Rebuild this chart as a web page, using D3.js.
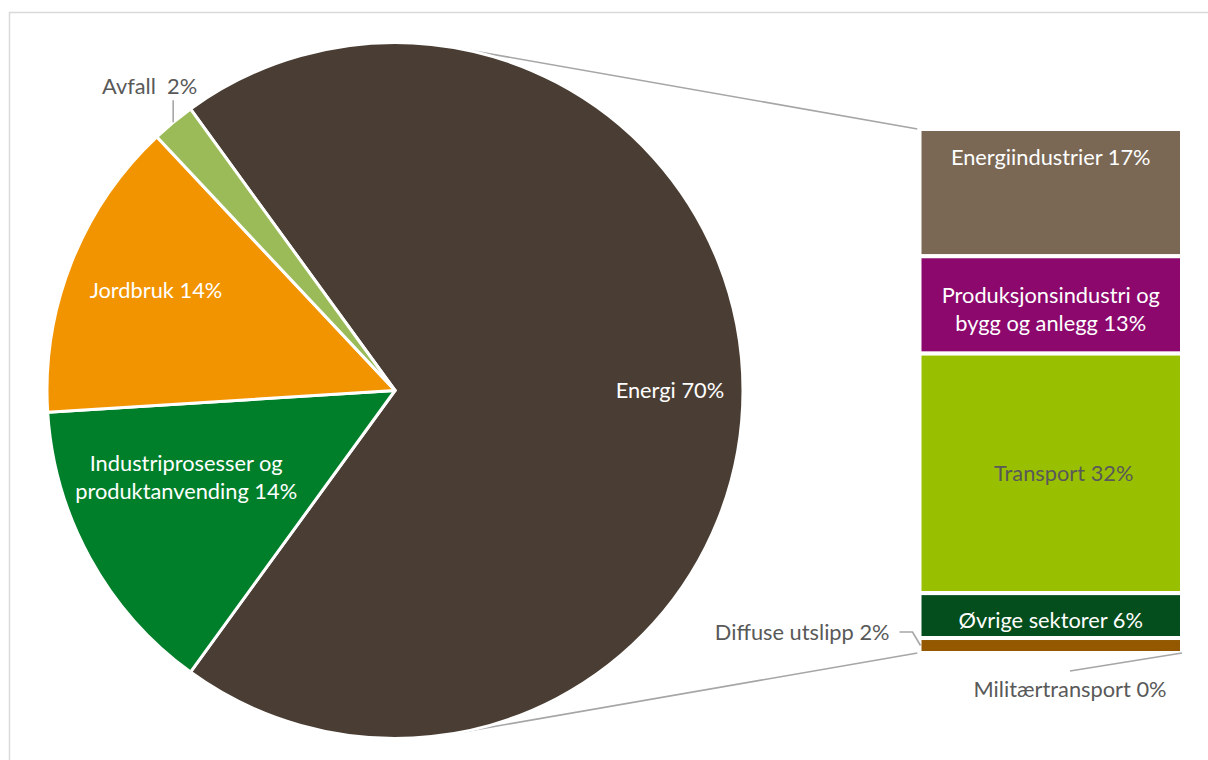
<!DOCTYPE html>
<html>
<head>
<meta charset="utf-8">
<script src="https://cdn.jsdelivr.net/npm/d3@7"></script>
<style>
  html, body { margin: 0; padding: 0; background: #ffffff; }
  svg { display: block; font-family: Lato, "Open Sans", sans-serif; }
</style>
</head>
<body>
<svg id="chart" width="1208" height="760"></svg>
<script>
// Greenhouse gas emissions by sector (share of total, %)
const pieCategories = ["Energi", "Industriprosesser og produktanvending", "Jordbruk", "Avfall"];
const pieValues = [70, 14, 14, 2];
const pieColors = ["#4a3e34", "#007f2b", "#f29400", "#9bbb59"];

// Breakdown of the Energi slice, stacked top to bottom in the bar
const barCategories = ["Energiindustrier", "Produksjonsindustri og bygg og anlegg", "Transport",
                       "Øvrige sektorer", "Diffuse utslipp", "Militærtransport"];
const barValues = [17, 13, 32, 6, 2, 0];
const barColors = ["#7a6855", "#8c086d", "#99c000", "#044d1c", "#935800", "#6b4a1f"];

const pct = v => `${d3.format(".0f")(v)}%`;

const svg = d3.select("#chart");
const W = 1208, H = 760;
const FONT = 21.8;
const GREY_TEXT = "#595959";
const LINE = "#a6a6a6";

// chart area frame
svg.append("rect")
  .attr("x", 9.5).attr("y", 12.5)
  .attr("width", W + 40).attr("height", H + 40)
  .attr("fill", "#ffffff")
  .attr("stroke", "#d9d9d9").attr("stroke-width", 1.5);

// ---- geometry ----
const cx = 395, cy = 390.5, R = 348;
const split = pieValues[0] / d3.sum(pieValues) * 2 * Math.PI;   // angle of the Energi slice
const start = Math.PI / 2 - split / 2;                          // centre Energi on the right side

const pie = d3.pie().sort(null).value(d => d).startAngle(start).endAngle(start + 2 * Math.PI);
const arcs = pie(pieValues);
const arc = d3.arc().innerRadius(0).outerRadius(R);

const barX0 = 919.5, barX1 = 1182;
const barTotal = d3.sum(barValues);
const y = d3.scaleLinear().domain([0, barTotal]).range([129, 653]);
const cum = [0, ...d3.cumsum(barValues)];
const segs = barValues.map((v, i) => ({ v, i, y0: y(cum[i]), y1: y(cum[i + 1]) }));

// ---- connector lines: tangents from the bar corners to the pie ----
function tangent(px, py, upper) {
  const dx = px - cx, dy = py - cy;
  const d = Math.hypot(dx, dy);
  const phi = Math.atan2(dy, dx);
  const a = Math.acos(R / d);
  const t = upper ? phi - a : phi + a;
  return [cx + R * Math.cos(t), cy + R * Math.sin(t)];
}
const topT = tangent(barX0, y(0), true);
const botT = tangent(barX0, y(barTotal), false);
svg.append("g").attr("fill", "none").attr("stroke", LINE).attr("stroke-width", 1.6)
  .selectAll("line")
  .data([[[barX0 - 2, y(0)], topT], [[barX0 - 2, y(barTotal)], botT]])
  .join("line")
  .attr("x1", d => d[0][0]).attr("y1", d => d[0][1])
  .attr("x2", d => d[1][0]).attr("y2", d => d[1][1]);

// ---- pie ----
const pieG = svg.append("g").attr("transform", `translate(${cx},${cy})`);
pieG.selectAll("path")
  .data(arcs)
  .join("path")
  .attr("d", arc)
  .attr("fill", (d, i) => pieColors[i])
  .attr("stroke", "#ffffff")
  .attr("stroke-width", 3)
  .attr("stroke-linejoin", "round");

// text helpers
function wrapLines(text, maxWidth) {
  const probe = svg.append("text").attr("font-size", FONT).attr("visibility", "hidden");
  const words = text.split(" ");
  const lines = [];
  let cur = "";
  for (const w of words) {
    const test = cur ? cur + " " + w : w;
    probe.text(test);
    if (cur && probe.node().getComputedTextLength() > maxWidth) {
      lines.push(cur);
      cur = w;
    } else cur = test;
  }
  if (cur) lines.push(cur);
  probe.remove();
  return lines;
}
function multiText(g, x, yc, lines, fill, anchor = "middle", lh = 28) {
  const t = g.append("text")
    .attr("x", x).attr("font-size", FONT)
    .attr("fill", fill).attr("text-anchor", anchor);
  const y0 = yc - (lines.length - 1) * lh / 2;
  lines.forEach((ln, k) => {
    t.append("tspan").attr("x", x).attr("y", y0 + k * lh).attr("dy", "0.35em").text(ln);
  });
  return t;
}

// pie labels: radius as fraction of R, angular nudge in degrees
const pieLabelPlacement = [
  { r: 0.79, nudge: 0 },
  { r: 0.65, nudge: 6.2 },
  { r: 0.745, nudge: 1.2 },
  null
];
const labelG = svg.append("g");
arcs.forEach((a, i) => {
  const text = `${pieCategories[i]} ${pct(pieValues[i])}`;
  const place = pieLabelPlacement[i];
  const mid = (a.startAngle + a.endAngle) / 2;
  if (place) {
    const ang = mid + place.nudge * Math.PI / 180;
    const lx = cx + Math.sin(ang) * R * place.r;
    const ly = cy - Math.cos(ang) * R * place.r;
    multiText(labelG, lx, ly, wrapLines(text, 250), "#ffffff");
  } else {
    // small slice: label outside with a vertical leader
    const px = cx + Math.sin(mid) * R;
    const py = cy - Math.cos(mid) * R;
    labelG.append("line")
      .attr("x1", px).attr("y1", py).attr("x2", px).attr("y2", py - 22)
      .attr("stroke", LINE).attr("stroke-width", 1.6);
    labelG.append("text")
      .attr("x", px + 24).attr("y", py - 36).attr("dy", "0.35em")
      .attr("text-anchor", "end").attr("font-size", FONT).attr("fill", GREY_TEXT)
      .text(`${pieCategories[i]}\u00a0 ${pct(pieValues[i])}`);
  }
});

// ---- bar ----
const barG = svg.append("g");
barG.selectAll("rect")
  .data(segs)
  .join("rect")
  .attr("x", barX0).attr("width", barX1 - barX0)
  .attr("y", d => d.y0).attr("height", d => d.y1 - d.y0)
  .attr("fill", d => barColors[d.i])
  .attr("stroke", "#ffffff").attr("stroke-width", 4);

const barMid = (barX0 + barX1) / 2;
// inside label offsets (dx, dy) and text colour per segment
const barLabelPlacement = [
  { dx: 0, dy: -35, fill: "#ffffff" },
  { dx: 0, dy: 4, fill: "#ffffff" },
  { dx: 13, dy: 0, fill: GREY_TEXT },
  { dx: 0, dy: 5, fill: "#ffffff" }
];
segs.forEach((s, i) => {
  const text = `${barCategories[i]} ${pct(barValues[i])}`;
  const mid = (s.y0 + s.y1) / 2;
  if (i < barLabelPlacement.length) {
    const p = barLabelPlacement[i];
    multiText(barG, barMid + p.dx, mid + p.dy, wrapLines(text, 250), p.fill);
  } else if (i === 4) {
    // Diffuse utslipp: label to the left with a bent leader
    const ax = barX0 + 1, ay = mid;
    const ly = ay - 13.5;
    barG.append("polyline")
      .attr("points", [[ax, ay], [ax - 8, ly], [ax - 21, ly]].map(p => p.join(",")).join(" "))
      .attr("fill", "none").attr("stroke", LINE).attr("stroke-width", 1.6);
    barG.append("text")
      .attr("x", ax - 31).attr("y", ly).attr("dy", "0.35em")
      .attr("text-anchor", "end").attr("font-size", FONT).attr("fill", GREY_TEXT)
      .text(text);
  } else {
    // Militærtransport: label below the bar with a leader from the bar's corner
    const ax = barX1, ay = s.y1;
    const lx = ax - 112, ly = ay + 18;
    barG.append("line")
      .attr("x1", ax).attr("y1", ay).attr("x2", lx).attr("y2", ly)
      .attr("stroke", LINE).attr("stroke-width", 1.6);
    barG.append("text")
      .attr("x", lx).attr("y", ly + 18).attr("dy", "0.35em")
      .attr("text-anchor", "middle").attr("font-size", FONT).attr("fill", GREY_TEXT)
      .text(text);
  }
});
</script>
</body>
</html>
